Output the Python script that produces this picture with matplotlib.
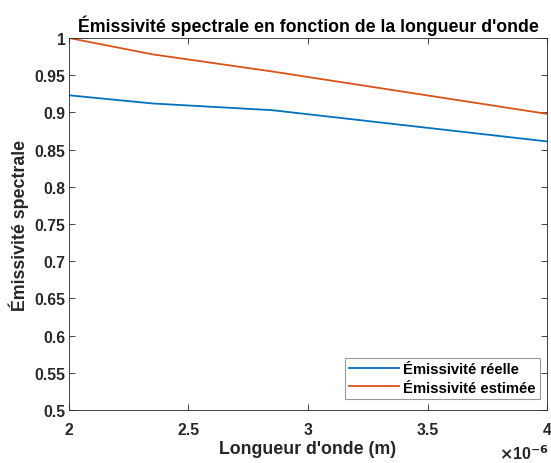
import numpy as np
import matplotlib.pyplot as plt

plt.rcParams['font.family'] = ['Liberation Sans', 'DejaVu Sans']
plt.rcParams['font.weight'] = 'bold'

# longueurs d'onde (m) et emissivites
longueur = [2.0e-6, 2.35e-6, 2.85e-6, 4.0e-6]
emis_reelle = [0.923, 0.912, 0.903, 0.861]
emis_estimee = [1.0, 0.978, 0.955, 0.898]

fig = plt.figure(figsize=(5.51, 4.64), dpi=100)
ax = fig.add_axes([0.125, 0.114, 0.868, 0.802])

ax.plot(longueur, emis_reelle, color='#0072BD', lw=1.3, label='Émissivité réelle')
ax.plot(longueur, emis_estimee, color='#D95319', lw=1.3, label='Émissivité estimée')

ax.set_xlim(2e-6, 4e-6)
ax.set_ylim(0.5, 1)
ax.set_xticks(np.arange(2e-6, 4.01e-6, 0.5e-6))
ax.set_xticklabels(['2', '2.5', '3', '3.5', '4'])
ax.set_yticks(np.arange(0.5, 1.001, 0.05))
ax.set_yticklabels(['0.5', '0.55', '0.6', '0.65', '0.7', '0.75', '0.8', '0.85', '0.9', '0.95', '1'])

ax.tick_params(direction='in', length=4, width=0.6, labelsize=11.3, colors='#262626',
               top=True, right=True)
ax.tick_params(axis='x', pad=8.5)
ax.tick_params(axis='y', pad=2.5)
for s in ax.spines.values():
    s.set_color('#262626')
    s.set_linewidth(0.6)

ax.set_xlabel("Longueur d'onde (m)", fontsize=12.8, fontweight='bold', color='#262626',
              labelpad=2)
ax.set_ylabel('Émissivité spectrale', fontsize=12.8, fontweight='bold', color='#262626')
ax.set_title("Émissivité spectrale en fonction de la longueur d'onde", fontsize=12.8,
             fontweight='bold', color='black', pad=5)
ax.text(1.003, -0.09, r'$\times$10$^{\mathbf{-6}}$', transform=ax.transAxes, ha='right',
        va='top', fontsize=11.5, color='#262626')

leg = ax.legend(loc='lower right', bbox_to_anchor=(0.9854, 0.0296), borderaxespad=0,
                fontsize=10.7, fancybox=False, framealpha=1, edgecolor='#999999',
                handlelength=3.4, handletextpad=0.25, borderpad=0.3, labelspacing=0.3)
leg.get_frame().set_linewidth(0.8)

fig.savefig('out.png', dpi=100)
